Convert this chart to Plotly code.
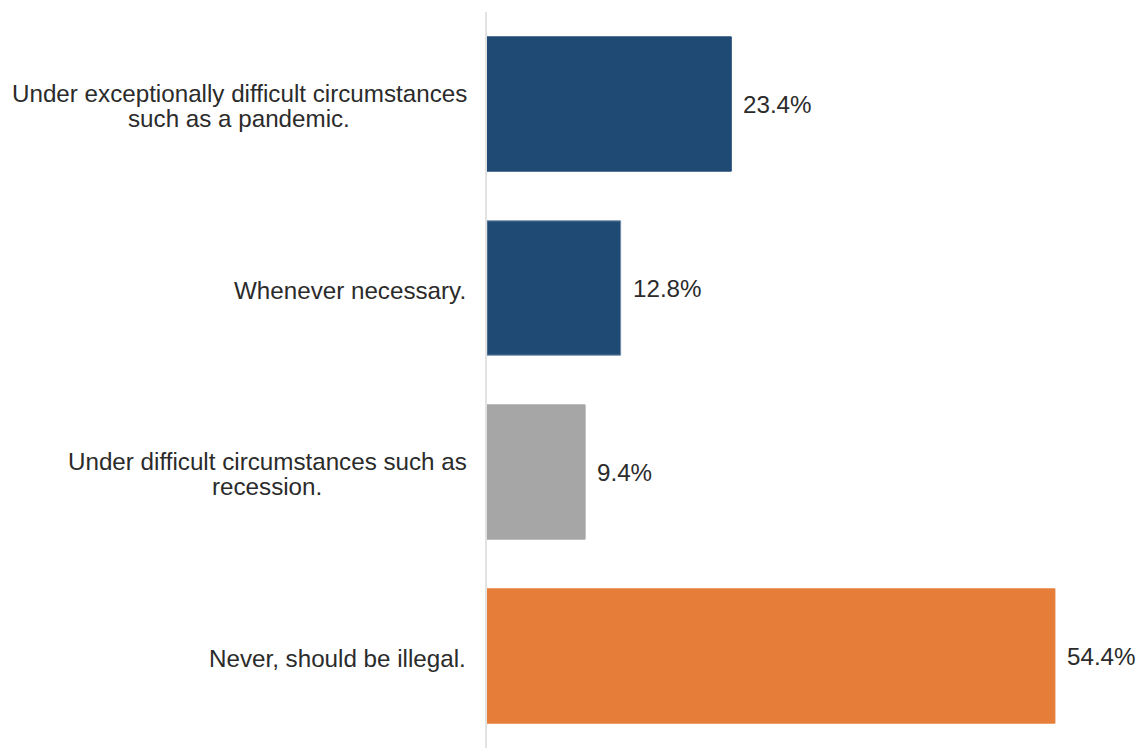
import plotly.graph_objects as go

# Survey responses: when should this be allowed?
categories = [
    "Under exceptionally difficult circumstances\nsuch as a pandemic.",
    "Whenever necessary.",
    "Under difficult circumstances such as\nrecession.",
    "Never, should be illegal.",
]
shares = [23.4, 12.8, 9.4, 54.4]
bar_colors = ["#1F4A73", "#1F4A73", "#A6A6A6", "#E67E39"]
edge_colors = ["#1F4A73", "#6F8CA8", "#A6A6A6", "#E67E39"]

FONT = "Arial, 'Liberation Sans', sans-serif"
FONT_SIZE = 24.2
TEXT = "#2B2B2B"
LINE_H = 25  # px between wrapped label lines
LABEL_GAP = 20  # px between label block and axis


def text_width(s, size=FONT_SIZE):
    """Approximate rendered width using Arial advance widths (per 1000 em)."""
    w = {
        " ": 278, ".": 278, ",": 278, "a": 556, "b": 556, "c": 500, "d": 556,
        "e": 556, "f": 278, "g": 556, "h": 556, "i": 222, "l": 222, "m": 833,
        "n": 556, "o": 556, "p": 556, "r": 333, "s": 500, "t": 278, "u": 556,
        "v": 500, "x": 500, "y": 500, "U": 722, "W": 944, "N": 722,
    }
    return sum(w.get(ch, 556) for ch in s) * size / 1000


fig = go.Figure(
    go.Bar(
        x=shares,
        y=categories,
        orientation="h",
        marker=dict(color=bar_colors, line=dict(color=edge_colors, width=1)),
        width=0.73,
        hoverinfo="skip",
    )
)

annotations = []
for cat, val in zip(categories, shares):
    # value label just past the end of each bar
    annotations.append(dict(
        x=val, y=cat, xref="x", yref="y", text=f"{val:.1f}%",
        showarrow=False, xanchor="left", yanchor="middle", xshift=10,
        font=dict(family=FONT, size=FONT_SIZE, color=TEXT),
    ))
    # category label: lines centred on a shared column that ends left of the axis
    lines = cat.split("\n")
    n = len(lines)
    centre = -LABEL_GAP - max(text_width(l) for l in lines) / 2
    for i, line in enumerate(lines):
        annotations.append(dict(
            x=0, y=cat, xref="paper", yref="y", text=line,
            showarrow=False, xanchor="center", yanchor="middle",
            xshift=centre, yshift=((n - 1) / 2 - i) * LINE_H - 2,
            font=dict(family=FONT, size=FONT_SIZE, color=TEXT),
        ))

fig.update_layout(
    width=1140,
    height=750,
    margin=dict(l=487, r=0, t=12, b=2),
    paper_bgcolor="white",
    plot_bgcolor="white",
    showlegend=False,
    bargap=0.27,
    xaxis=dict(range=[0, 62.55], visible=False, fixedrange=True),
    yaxis=dict(
        categoryorder="array", categoryarray=categories, autorange="reversed",
        showticklabels=False, ticks="", showgrid=False, zeroline=False,
        showline=True, linecolor="#E3E3E3", linewidth=2, fixedrange=True,
    ),
    annotations=annotations,
)

fig.write_html("out.html")
